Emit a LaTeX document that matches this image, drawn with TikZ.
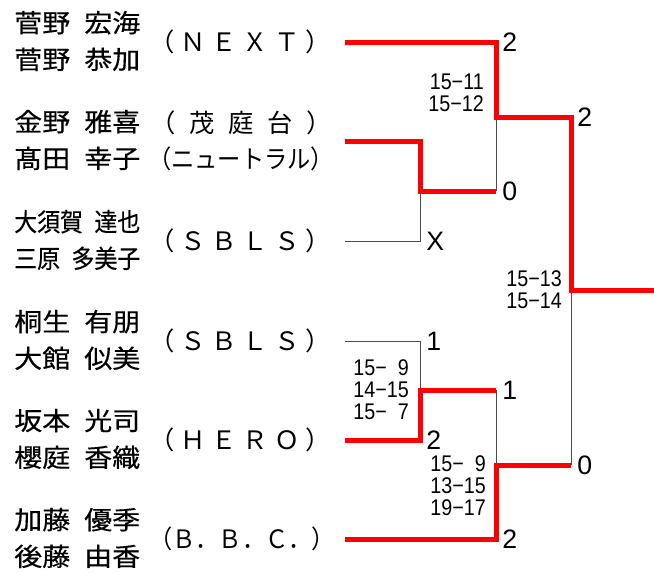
\documentclass[tikz,border=0pt]{standalone}
\usepackage{fontspec}
\usepackage{graphicx}
\setmainfont{Liberation Sans}
\newfontfamily\jp{Noto Sans CJK JP}
\newfontfamily\jpb[FakeBold=0.4]{Noto Sans CJK JP}
\newfontfamily\narrow[FakeStretch=0.87]{Liberation Sans}
\usetikzlibrary{positioning}
\newcommand\pname[2]{\resizebox{94.5pt}{\height}{#1\enspace #2}}
\newcommand\spread[1]{\makebox[136.5pt][s]{#1}}
\newcommand\squeeze[1]{\resizebox{139.5pt}{\height}{#1}}

\begin{document}
\begin{tikzpicture}[x=0.75pt, y=-0.75pt, win/.style={red, line width=3.75pt}, lose/.style={black!70, line width=0.75pt},
  player/.style={anchor=west, inner sep=0pt, align=left, font=\jpb\fontsize{19}{27.5}\selectfont},
  team/.style={inner sep=0pt, align=center, font=\jp\fontsize{19}{27.5}\selectfont},
  result/.style={anchor=west, inner sep=0pt, font=\fontsize{20}{24}\selectfont},
  games/.style={anchor=east, inner sep=0pt, align=right, font=\narrow\fontsize{17}{16.5}\selectfont}]
\useasboundingbox (0,0) rectangle (654,572);
\begin{scope}
\node[player] (n1) at (14,41) {\pname{菅野}{宏海}\\\pname{菅野}{恭加}};
\node[player] (n2) at (14,140) {\pname{金野}{雅喜}\\\pname{髙田}{幸子}};
\node[player] (n3) at (14,240) {\pname{大須賀}{達也}\\\pname{三原}{多美子}};
\node[player] (n4) at (14,340) {\pname{桐生}{有朋}\\\pname{大館}{似美}};
\node[player] (n5) at (14,439) {\pname{坂本}{光司}\\\pname{櫻庭}{香織}};
\node[player] (n6) at (14,538) {\pname{加藤}{優季}\\\pname{後藤}{由香}};
\node[team] (t1) at (240,42) {\spread{（\hfill Ｎ\hfill Ｅ\hfill Ｘ\hfill Ｔ\hfill ）}};
\node[team] (t2) at (241,141) {\spread{（\hfill 茂\hfill 庭\hfill 台\hfill ）}\\\squeeze{（ニュートラル）}};
\node[team] (t3) at (240,241) {\spread{（\hfill Ｓ\hfill Ｂ\hfill Ｌ\hfill Ｓ\hfill ）}};
\node[team] (t4) at (240,341) {\spread{（\hfill Ｓ\hfill Ｂ\hfill Ｌ\hfill Ｓ\hfill ）}};
\node[team] (t5) at (240,440) {\spread{（\hfill Ｈ\hfill Ｅ\hfill Ｒ\hfill Ｏ\hfill ）}};
\node[team] (t6) at (242,539) {\squeeze{（Ｂ．\hfill Ｂ．\hfill Ｃ．\hfill ）}};
\end{scope}
\begin{scope}
\coordinate (a1) at (345,42);
\coordinate (a2) at (345,141);
\coordinate (a3) at (345,241);
\coordinate (a4) at (345,341);
\coordinate (a5) at (345,440);
\coordinate (a6) at (345,539);
\coordinate (m1) at (420,191);
\coordinate (m2) at (420,390);
\coordinate (k1) at (496,191);
\coordinate (k2) at (496,390);
\coordinate (q1) at (496,117);
\coordinate (q2) at (496,465);
\coordinate (k3) at (571,465);
\coordinate (f) at (571,290);
\coordinate (w) at (654,290);
\draw[lose] (a3) -| (m1);
\draw[lose] (k1) -- (q1);
\draw[lose] (a4) -| (m2);
\draw[lose] (k2) -- (q2);
\draw[lose] (k3) -- (f);
\draw[win] (a1) -| (q1) -| (f) -- (w);
\draw[win] (a2) -| (m1) -- (k1);
\draw[win] (a5) -| (m2) -- (k2);
\draw[win] (a6) -| (q2) -- (k3);
\end{scope}
\begin{scope}
\node[result] (r1) at (502,42) {2};
\node[result] (r2) at (502,191) {0};
\node[result] (r3) at (426,241) {X};
\node[result] (r4) at (426,341) {1};
\node[result] (r5) at (426,440) {2};
\node[result] (r6) at (502,390) {1};
\node[result] (r7) at (502,539) {2};
\node[result] (r8) at (577,117) {2};
\node[result] (r9) at (577,465) {0};
\node[games] (g1) at (484,92.5) {15−11\\15−12};
\node[games] (g2) at (562,289.5) {15−13\\15−14};
\node[games] (g3) at (409,389.5) {15−\phantom{0}9\\14−15\\15−\phantom{0}7};
\node[games] (g4) at (486,486) {15−\phantom{0}9\\13−15\\19−17};
\end{scope}
\end{tikzpicture}
\end{document}
